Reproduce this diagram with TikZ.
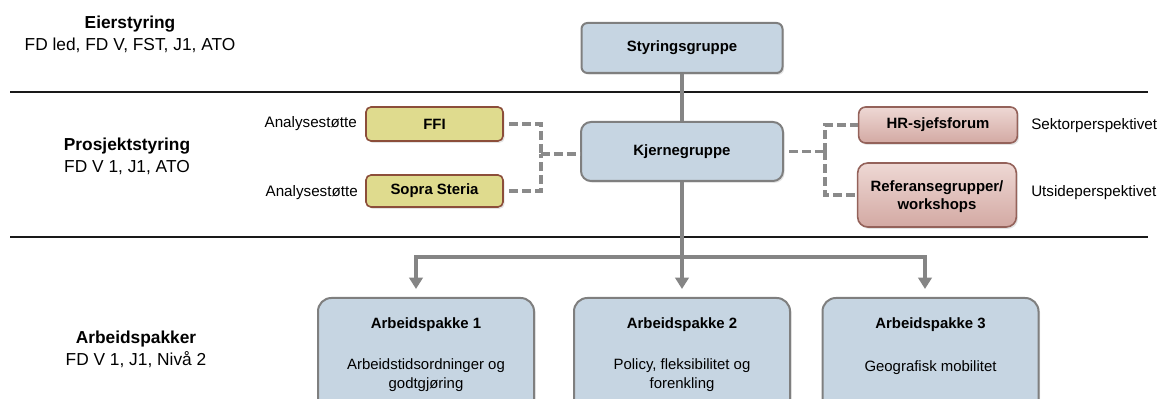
\documentclass[tikz,border=0pt]{standalone}
\usepackage{fontspec}
\setmainfont{Liberation Sans}
\usetikzlibrary{arrows.meta,shadows}

\definecolor{boxblue}{HTML}{C6D5E2}
\definecolor{boxgrey}{HTML}{7F7F7F}
\definecolor{ochre}{HTML}{DFDB8E}
\definecolor{ochreline}{HTML}{8C4E3A}
\definecolor{rosetop}{HTML}{EED8D4}
\definecolor{rosebot}{HTML}{D3A9A3}
\definecolor{roseline}{HTML}{94625A}
\definecolor{linkgrey}{HTML}{858585}
\definecolor{dashgrey}{HTML}{8A8A8A}

\begin{document}
\begin{tikzpicture}[x=0.75pt,y=-0.75pt,
  boxfont/.style={font=\fontsize{11.2}{13.6}\selectfont\bfseries},
  softshadow/.style={drop shadow={opacity=0.22,shadow xshift=1.2pt,shadow yshift=-1.4pt}},
  bluebox/.style={boxfont, draw=boxgrey, line width=1.5pt, fill=boxblue,
    inner sep=0pt, align=center, softshadow},
  ochrebox/.style={boxfont, draw=ochreline, line width=1.2pt, fill=ochre,
    inner sep=0pt, align=center, rounded corners=3.75pt,
    minimum width=102.75pt, softshadow},
  rosebox/.style={boxfont, draw=roseline, line width=1.2pt,
    top color=rosetop, bottom color=rosebot, inner sep=0pt, align=center,
    minimum width=119pt, softshadow},
  apbox/.style={draw=boxgrey, line width=1.5pt, fill=boxblue,
    minimum width=162pt, minimum height=90pt, rounded corners=10pt, softshadow},
  aptitle/.style={font=\fontsize{11.2}{13.6}\selectfont\bfseries, inner sep=0pt},
  apbody/.style={font=\fontsize{11.2}{14.6}\selectfont, inner sep=0pt, align=center},
  heading/.style={font=\fontsize{13}{16.5}\selectfont, inner sep=0pt, align=center},
  sidenote/.style={font=\fontsize{11.4}{13.6}\selectfont, inner sep=0pt},
  divider/.style={line width=1.1pt, black!90},
  spine/.style={draw=linkgrey, line width=2.5pt},
  tip/.tip={Triangle[width=10pt,length=8.5pt]},
  branch/.style={spine, -tip, shorten >=6pt},
  dashlink/.style={draw=dashgrey, line width=2.6pt, dash pattern=on 6.5pt off 3.2pt}
]
\useasboundingbox (0,0) rectangle (1158,399);
\clip (0,0) rectangle (1158,399);

% level dividers
\coordinate (d1l) at (10,92);   \coordinate (d1r) at (1148,92);
\coordinate (d2l) at (10,237);  \coordinate (d2r) at (1148,237);
\draw[divider] (d1l) -- (d1r);
\draw[divider] (d2l) -- (d2r);

% level headings
\node[heading] (hEier) at (130,34) {\textbf{Eierstyring}\\FD led, FD V, FST, J1, ATO};
\node[heading] (hProsj) at (127,156) {\textbf{Prosjektstyring}\\FD V 1, J1, ATO};
\node[heading] (hArb) at (136,349) {\textbf{Arbeidspakker}\\FD V 1, J1, Nivå 2};

% steering and core groups
\node[bluebox, minimum width=150.75pt, minimum height=37.5pt, rounded corners=4.5pt]
  (sty) at (682,48) {Styringsgruppe};
\node[bluebox, minimum width=151.5pt, minimum height=44.25pt, rounded corners=7.5pt]
  (kj) at (682,151.5) {Kjernegruppe};

% analysis support
\node[ochrebox, minimum height=25.5pt] (ffi) at (434.5,124) {FFI};
\node[ochrebox, minimum height=24pt] (sopra) at (434.5,191) {Sopra Steria};
\node[sidenote, anchor=east] (nFfi) at (357,124) {Analysestøtte};
\node[sidenote, anchor=east] (nSopra) at (358,193) {Analysestøtte};

% reference forums
\node[rosebox, minimum height=27pt, rounded corners=5.25pt] (hr) at (938,125) {HR-sjefsforum};
\node[rosebox, minimum height=48pt, rounded corners=7.5pt, text depth=0pt]
  (ref) at (937,195) {Referansegrupper/\\workshops};
\node[sidenote, anchor=west] (nHr) at (1031,126) {Sektorperspektivet};
\node[sidenote, anchor=west] (nRef) at (1031,193) {Utsideperspektivet};

% work packages
\node[apbox] (ap1) at (426,358) {};
\node[apbox] (ap2) at (682,358) {};
\node[apbox] (ap3) at (930.5,358) {};
\node[aptitle] (t1) at (426,325) {Arbeidspakke 1};
\node[aptitle] (t2) at (682,325) {Arbeidspakke 2};
\node[aptitle] (t3) at (930.5,325) {Arbeidspakke 3};
\node[apbody] (b1) at (426,375) {Arbeidstidsordninger og\\godtgjøring};
\node[apbody] (b2) at (682,375) {Policy, fleksibilitet og\\forenkling};
\node[apbody] (b3) at (930.5,368) {Geografisk mobilitet};

% solid reporting line
\coordinate (bl) at (416,257);
\coordinate (br) at (925,257);
\draw[spine] (sty.south) -- (kj.north);
\draw[branch] (kj.south) -- (ap2.north);
\draw[spine, tip-tip, shorten <=6pt, shorten >=6pt]
  (bl |- ap1.north) -- (bl) -- (br) -- (br |- ap3.north);

% dashed support links
\coordinate (lj) at (541,154);
\coordinate (rj) at (825,151.5);
\draw[dashlink, shorten <=4pt] (ffi.east) -| (lj);
\draw[dashlink, shorten <=4pt] (sopra.east) -| (lj);
\draw[dashlink] (lj) -- (lj -| kj.west);
\draw[dashlink, shorten <=4pt] (kj.east) -- (rj);
\draw[dashlink] (rj) |- (hr.west);
\draw[dashlink] (rj) |- (ref.west);
\end{tikzpicture}
\end{document}
